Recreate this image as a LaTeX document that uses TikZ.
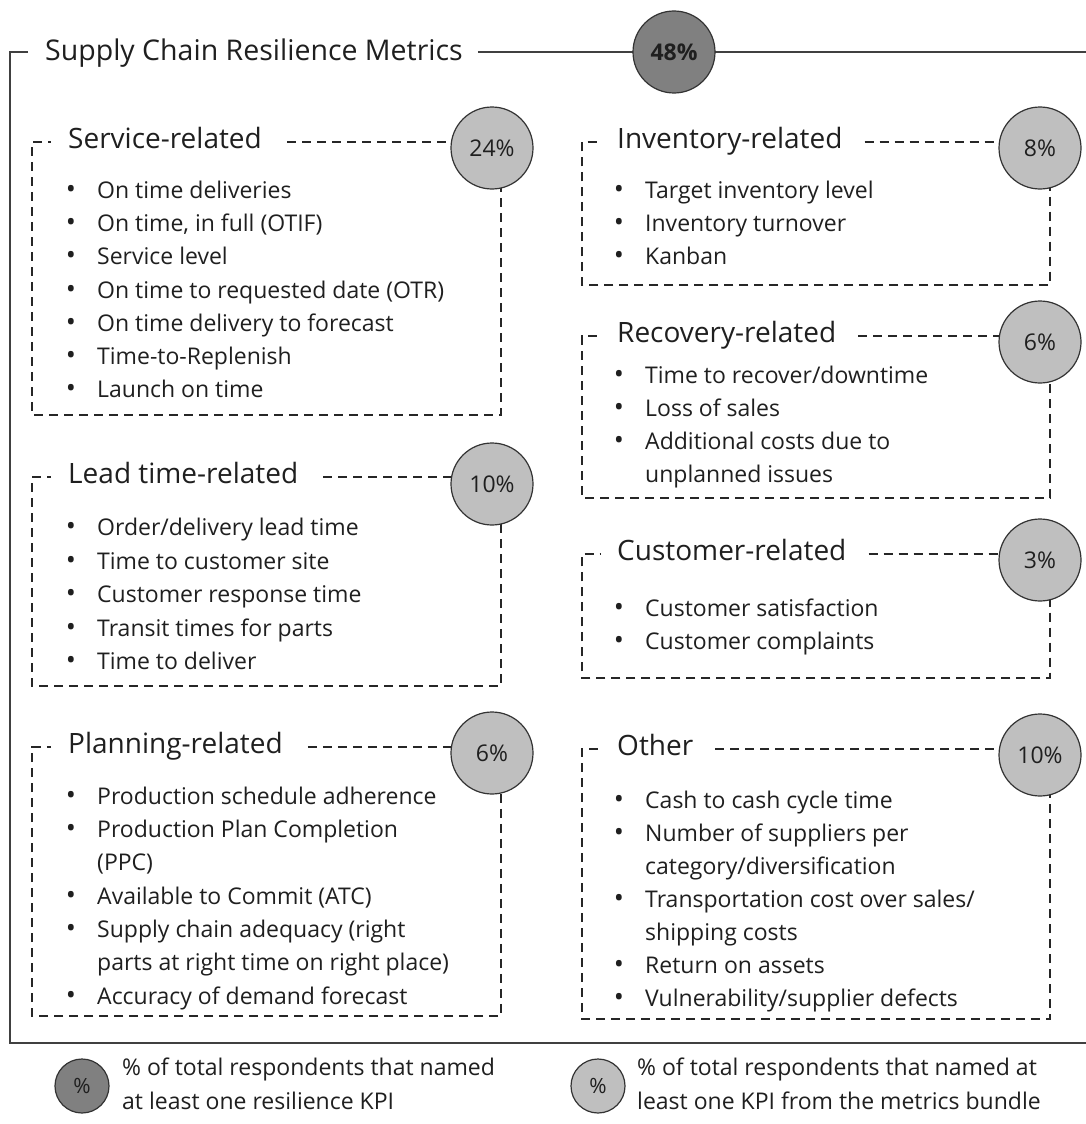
\documentclass[tikz,border=0pt]{standalone}
\usepackage{fontspec}
\setmainfont{Open Sans}
\usetikzlibrary{calc}
\newcommand{\bitem}[4]{\node[bul] (#3b) at (#1-26,#2+8) {•}; \node[itm] (#3) at (#1,#2+8) {#4};}
\newcommand{\citem}[4]{\node[itm] (#3) at (#1,#2+8) {#4};}
\begin{document}
\begin{tikzpicture}[x=1pt,y=-1pt,
  txt/.style={inner sep=0pt, text=black!88},
  headtitle/.style={txt, font=\fontsize{28.5}{34}\selectfont, anchor=base west},
  grptitle/.style={txt, font=\fontsize{28}{33}\selectfont, anchor=base west},
  itm/.style={txt, font=\fontsize{23}{27}\selectfont, anchor=base west},
  bul/.style={txt, font=\fontsize{27}{30}\selectfont, anchor=base},
  pct/.style={circle, draw=black!80, line width=1.2pt, minimum size=82pt, inner sep=0pt, font=\fontsize{23}{27}\selectfont, text=black!88},
  lightpct/.style={pct, fill=black!25},
  darkpct/.style={pct, fill=black!50},
  outerframe/.style={draw=black!75, line width=1.8pt},
  grpbox/.style={draw=black!85, line width=1.1pt, dash pattern=on 9pt off 6pt},
]
\useasboundingbox (0,0) rectangle (1086,1124);
\fill[white] (0,0) rectangle (1086,1124);

% outer frame
\node[headtitle] (ft) at (45,60) {Supply Chain Resilience Metrics};
\draw[outerframe] ($(ft.base east)+(15,-8)$) -- (1090,52);
\draw[outerframe] (28,52) -- (10,52) -- (10,1043) -- (1090,1043);
\node[darkpct, font=\fontsize{23}{27}\selectfont\bfseries] (ctot) at (674,52) {48\%};

% ---------- Service-related
\node[grptitle] (tS) at (68,148) {Service-related};
\draw[grpbox] ($(tS.base east)+(25,-6)$) -- (501,142) -- (501,415) -- (32,415) -- (32,142) -- (51,142);
\node[lightpct] (cS) at (492,148) {24\%};
\bitem{97}{190}{s1}{On time deliveries}
\bitem{97}{223}{s2}{On time, in full (OTIF)}
\bitem{97}{256}{s3}{Service level}
\bitem{97}{290}{s4}{On time to requested date (OTR)}
\bitem{97}{323}{s5}{On time delivery to forecast}
\bitem{97}{356}{s6}{Time-to-Replenish}
\bitem{97}{389}{s7}{Launch on time}

% ---------- Lead time-related
\node[grptitle] (tL) at (68,483) {Lead time-related};
\draw[grpbox] ($(tL.base east)+(25,-6)$) -- (501,477) -- (501,686) -- (32,686) -- (32,477) -- (51,477);
\node[lightpct] (cL) at (492,484) {10\%};
\bitem{97}{527}{l1}{Order/delivery lead time}
\bitem{97}{561}{l2}{Time to customer site}
\bitem{97}{594}{l3}{Customer response time}
\bitem{97}{628}{l4}{Transit times for parts}
\bitem{97}{661}{l5}{Time to deliver}

% ---------- Planning-related
\node[grptitle] (tP) at (68,753) {Planning-related};
\draw[grpbox] ($(tP.base east)+(25,-6)$) -- (501,747) -- (501,1016) -- (32,1016) -- (32,747) -- (51,747);
\node[lightpct] (cP) at (492,753) {6\%};
\bitem{97}{796}{p1}{Production schedule adherence}
\bitem{97}{829}{p2}{Production Plan Completion}
\citem{97}{862}{p2b}{(PPC)}
\bitem{97}{896}{p3}{Available to Commit (ATC)}
\bitem{97}{929}{p4}{Supply chain adequacy (right}
\citem{97}{962}{p4b}{parts at right time on right place)}
\bitem{97}{996}{p5}{Accuracy of demand forecast}

% ---------- Inventory-related
\node[grptitle] (tI) at (617,148) {Inventory-related};
\draw[grpbox] ($(tI.base east)+(22,-6)$) -- (1050,142) -- (1050,285) -- (582,285) -- (582,142) -- (601,142);
\node[lightpct] (cI) at (1040,148) {8\%};
\bitem{645}{190}{i1}{Target inventory level}
\bitem{645}{223}{i2}{Inventory turnover}
\bitem{645}{256}{i3}{Kanban}

% ---------- Recovery-related
\node[grptitle] (tR) at (617,342) {Recovery-related};
\draw[grpbox] ($(tR.base east)+(22,-6)$) -- (1050,336) -- (1050,498) -- (582,498) -- (582,336) -- (601,336);
\node[lightpct] (cR) at (1040,342) {6\%};
\bitem{645}{375}{r1}{Time to recover/downtime}
\bitem{645}{408}{r2}{Loss of sales}
\bitem{645}{441}{r3}{Additional costs due to}
\citem{645}{474}{r3b}{unplanned issues}

% ---------- Customer-related
\node[grptitle] (tC) at (617,560) {Customer-related};
\draw[grpbox] ($(tC.base east)+(22,-6)$) -- (1050,554) -- (1050,678) -- (582,678) -- (582,554) -- (601,554);
\node[lightpct] (cC) at (1040,560) {3\%};
\bitem{645}{608}{u1}{Customer satisfaction}
\bitem{645}{641}{u2}{Customer complaints}

% ---------- Other
\node[grptitle] (tO) at (617,755) {Other};
\draw[grpbox] ($(tO.base east)+(22,-6)$) -- (1050,749) -- (1050,1019) -- (582,1019) -- (582,749) -- (601,749);
\node[lightpct] (cO) at (1040,755) {10\%};
\bitem{645}{800}{o1}{Cash to cash cycle time}
\bitem{645}{833}{o2}{Number of suppliers per}
\citem{645}{866}{o2b}{category/diversification}
\bitem{645}{899}{o3}{Transportation cost over sales/}
\citem{645}{932}{o3b}{shipping costs}
\bitem{645}{965}{o4}{Return on assets}
\bitem{645}{998}{o5}{Vulnerability/supplier defects}

% ---------- Legend
\node[darkpct, minimum size=54pt, font=\fontsize{21}{25}\selectfont] (ldark) at (82,1086) {\%};
\node[itm] (ldt1) at (122,1075) {\% of total respondents that named};
\node[itm] (ldt2) at (122,1109) {at least one resilience KPI};
\node[lightpct, minimum size=54pt, font=\fontsize{21}{25}\selectfont] (llight) at (598,1086) {\%};
\node[itm] (llt1) at (637,1075) {\% of total respondents that named at};
\node[itm] (llt2) at (637,1109) {least one KPI from the metrics bundle};
\end{tikzpicture}
\end{document}
